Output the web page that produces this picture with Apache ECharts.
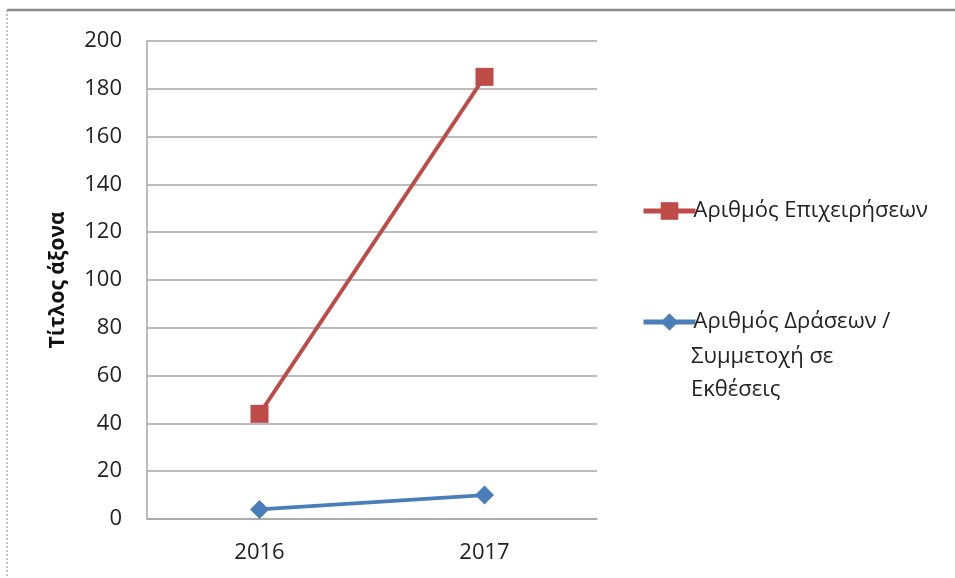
<!DOCTYPE html>
<html><head><meta charset="utf-8">
<script src="https://cdn.jsdelivr.net/npm/echarts@6/dist/echarts.min.js"></script>
<style>html,body{margin:0;padding:0;background:#fff}#c{width:955px;height:578px}</style>
</head><body><div id="c"></div>
<script>
const categories = ['2016', '2017'];
const seriesNames = ['Αριθμός Επιχειρήσεων', 'Αριθμός Δράσεων / Συμμετοχή σε Εκθέσεις'];
const legendLines = ['Αριθμός Δράσεων /', 'Συμμετοχή σε', 'Εκθέσεις'];
const businesses = [44, 185];
const actions = [4, 10];
const yTicks = { min: 0, max: 200, interval: 20 };
const axisTitle = 'Τίτλος άξονα';

const FONT = '"Open Sans", "Noto Sans", sans-serif';
const chart = echarts.init(document.getElementById('c'), null, { renderer: 'canvas' });
chart.setOption({
  backgroundColor: '#fff',
  animation: false,
  grid: { left: 147, right: 358, top: 41, bottom: 59, containLabel: false },
  xAxis: {
    type: 'category', data: categories, boundaryGap: true,
    axisLine: { lineStyle: { color: '#a6a6a6', width: 1.5 } },
    axisTick: { show: false },
    axisLabel: { color: '#222', fontSize: 22, fontFamily: FONT, margin: 23 }
  },
  yAxis: {
    type: 'value', min: yTicks.min, max: yTicks.max, interval: yTicks.interval,
    name: axisTitle, nameLocation: 'middle', nameRotate: 90, nameGap: 78,
    nameTextStyle: { color: '#111', fontSize: 21, fontWeight: 'bold', fontFamily: FONT },
    axisLine: { show: true, lineStyle: { color: '#a6a6a6', width: 1.5 } },
    axisTick: { show: false },
    splitLine: { lineStyle: { color: '#a6a6a6', width: 1.5 } },
    axisLabel: { color: '#222', fontSize: 22, fontFamily: FONT, margin: 25 }
  },
  legend: [
    {
      orient: 'vertical', left: 636, top: 195,
      itemWidth: 52, itemHeight: 22, itemGap: 0,
      data: [seriesNames[0]],
      lineStyle: { width: 5 },
      textStyle: { color: '#222', fontSize: 22, fontFamily: FONT, padding: [0, 0, 0, -7] }
    },
    {
      orient: 'vertical', left: 636, top: 306,
      itemWidth: 52, itemHeight: 22, itemGap: 0,
      data: [seriesNames[1]],
      lineStyle: { width: 5 },
      formatter: () => legendLines[0],
      textStyle: { color: '#222', fontSize: 22, fontFamily: FONT, padding: [0, 0, 0, -7] }
    }
  ],
  graphic: [
    { type: 'line', shape: { x1: 7, y1: 10, x2: 955, y2: 10 }, style: { stroke: '#8a8a8a', lineWidth: 2.5 } },
    { type: 'line', shape: { x1: 7, y1: 10, x2: 7, y2: 578 }, style: { stroke: '#b0b0b0', lineWidth: 1.5, lineDash: [2, 2] } },
    { type: 'text', left: 691, top: 346, style: { text: legendLines[1], fill: '#222', font: '22px ' + FONT } },
    { type: 'text', left: 691, top: 379, style: { text: legendLines[2], fill: '#222', font: '22px ' + FONT } }
  ],
  series: [
    {
      name: seriesNames[0], type: 'line', data: businesses,
      symbol: 'rect', symbolSize: 18,
      lineStyle: { color: '#be4b48', width: 3.8 },
      itemStyle: { color: '#be4b48' }
    },
    {
      name: seriesNames[1], type: 'line', data: actions,
      symbol: 'diamond', symbolSize: 19,
      lineStyle: { color: '#4a7ebb', width: 3.8 },
      itemStyle: { color: '#4a7ebb' }
    }
  ]
});
</script></body></html>
